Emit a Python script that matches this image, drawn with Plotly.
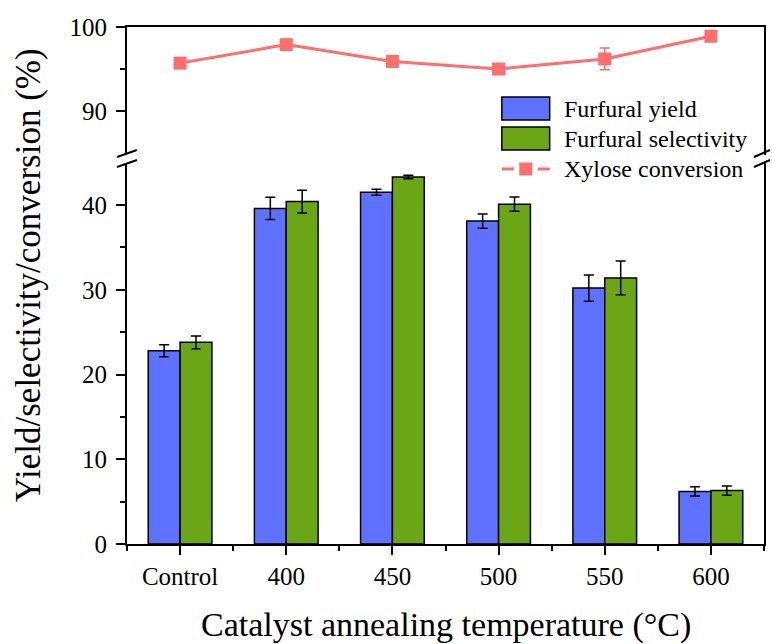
import plotly.graph_objects as go

# ---- data ----
categories = ["Control", "400", "450", "500", "550", "600"]
yield_vals = [22.8, 39.6, 41.5, 38.1, 30.2, 6.2]
yield_err = [0.7, 1.3, 0.35, 0.85, 1.55, 0.55]
select_vals = [23.8, 40.4, 43.3, 40.1, 31.4, 6.3]
select_err = [0.75, 1.35, 0.2, 0.85, 2.0, 0.55]
conv_vals = [95.7, 97.9, 95.9, 95.0, 96.2, 98.9]
conv_err = [0, 0, 0, 0, 1.3, 0]

BLUE = "#5F72FF"
GREEN = "#6AA616"
SALMON = "#FF6E6E"
FONT = "Liberation Serif, Times New Roman, serif"

W, H = 772, 644
ML, MR, MT, MB = 127, 6, 27, 100
PW, PH = W - ML - MR, H - MT - MB


def px(x):
    return (x - ML) / PW


def py(y):
    return (H - MB - y) / PH


xs = list(range(len(categories)))

fig = go.Figure()
fig.add_trace(go.Bar(
    x=xs, y=yield_vals, name="Furfural yield",
    marker=dict(color=BLUE, line=dict(color="black", width=1.5)),
    error_y=dict(type="data", array=yield_err, color="black", thickness=1.5, width=5),
    xaxis="x", yaxis="y", showlegend=False,
))
fig.add_trace(go.Bar(
    x=xs, y=select_vals, name="Furfural selectivity",
    marker=dict(color=GREEN, line=dict(color="black", width=1.5)),
    error_y=dict(type="data", array=select_err, color="black", thickness=1.5, width=5),
    xaxis="x", yaxis="y", showlegend=False,
))
fig.add_trace(go.Scatter(
    x=xs, y=conv_vals, name="Xylose conversion", mode="lines+markers",
    line=dict(color=SALMON, width=3),
    marker=dict(symbol="square", size=13, color=SALMON),
    error_y=dict(type="data", array=conv_err, color=SALMON, thickness=1.5, width=5),
    xaxis="x2", yaxis="y2", showlegend=False,
))

axis_common = dict(
    showline=True, linecolor="black", linewidth=2,
    ticks="outside", tickcolor="black", tickwidth=2, ticklen=9,
    tickfont=dict(family=FONT, size=25, color="black"),
    showgrid=False, zeroline=False,
)

low_top = (H - MB - 163) / PH
up_bot = (H - MB - 155) / PH

fig.update_layout(
    width=W, height=H,
    margin=dict(l=ML, r=MR, t=MT, b=MB),
    paper_bgcolor="white", plot_bgcolor="white",
    barmode="group", bargap=0.4, bargroupgap=0,
    font=dict(family=FONT, color="black"),
    xaxis=dict(
        **axis_common, range=[-0.5, 5.5], anchor="y",
        tickmode="array", tickvals=xs, ticktext=categories,
        minor=dict(tickmode="array", tickvals=[-0.5, 0.5, 1.5, 2.5, 3.5, 4.5, 5.5],
                   ticks="outside", ticklen=5, tickwidth=2, tickcolor="black"),
    ),
    xaxis2=dict(
        range=[-0.5, 5.5], matches="x", anchor="y2", side="top",
        showline=True, linecolor="black", linewidth=2, ticks="",
        showticklabels=False, showgrid=False, zeroline=False,
    ),
    yaxis=dict(
        **axis_common, domain=[0, low_top], range=[0, 381 / 8.475], anchor="x",
        mirror=True, tickmode="array", tickvals=[0, 10, 20, 30, 40],
        minor=dict(tickmode="array", tickvals=[5, 15, 25, 35],
                   ticks="outside", ticklen=5, tickwidth=2, tickcolor="black"),
        ticklabelstandoff=4,
    ),
    yaxis2=dict(
        **axis_common, domain=[up_bot, 1], range=[100 - 128 / 8.4, 100], anchor="x2",
        mirror=True, tickmode="array", tickvals=[90, 100],
        minor=dict(tickmode="array", tickvals=[95],
                   ticks="outside", ticklen=5, tickwidth=2, tickcolor="black"),
        ticklabelstandoff=4,
    ),
)

shapes = []
# axis break marks (left and right)
for x0, x1 in [(117, 137), (756, 772)]:
    for ya, yb in [(157, 150), (167, 160)]:
        shapes.append(dict(type="line", xref="paper", yref="paper",
                           x0=px(x0), y0=py(ya), x1=px(x1), y1=py(yb),
                           line=dict(color="black", width=2)))

# legend swatches
for (top, bot), col in [((97, 120), BLUE), ((127, 150), GREEN)]:
    shapes.append(dict(type="rect", xref="paper", yref="paper",
                       x0=px(503), x1=px(551), y0=py(bot), y1=py(top),
                       fillcolor=col, line=dict(color="black", width=1.5)))
for a, b in [(503, 515), (539, 551)]:
    shapes.append(dict(type="line", xref="paper", yref="paper",
                       x0=px(a), x1=px(b), y0=py(169), y1=py(169),
                       line=dict(color=SALMON, width=3)))
shapes.append(dict(type="rect", xref="paper", yref="paper",
                   x0=px(520.5), x1=px(533.5), y0=py(175.5), y1=py(162.5),
                   fillcolor=SALMON, line=dict(width=0)))

annotations = []
for label, yc in [("Furfural yield", 108.5), ("Furfural selectivity", 138.5),
                  ("Xylose conversion", 169)]:
    annotations.append(dict(text=label, xref="paper", yref="paper",
                            x=px(563), y=py(yc), xanchor="left", yanchor="middle",
                            showarrow=False, font=dict(family=FONT, size=24, color="black")))

annotations.append(dict(text="Catalyst annealing temperature (°C)", xref="paper", yref="paper",
                        x=0.5, y=py(625), xanchor="center", yanchor="middle",
                        showarrow=False, font=dict(family=FONT, size=34, color="black")))
annotations.append(dict(text="Yield/selectivity/conversion (%)", xref="paper", yref="paper",
                        x=px(28), y=py(275), xanchor="center", yanchor="middle",
                        textangle=-90, showarrow=False,
                        font=dict(family=FONT, size=35, color="black")))

fig.update_layout(shapes=shapes, annotations=annotations)

fig.write_html("out.html")
